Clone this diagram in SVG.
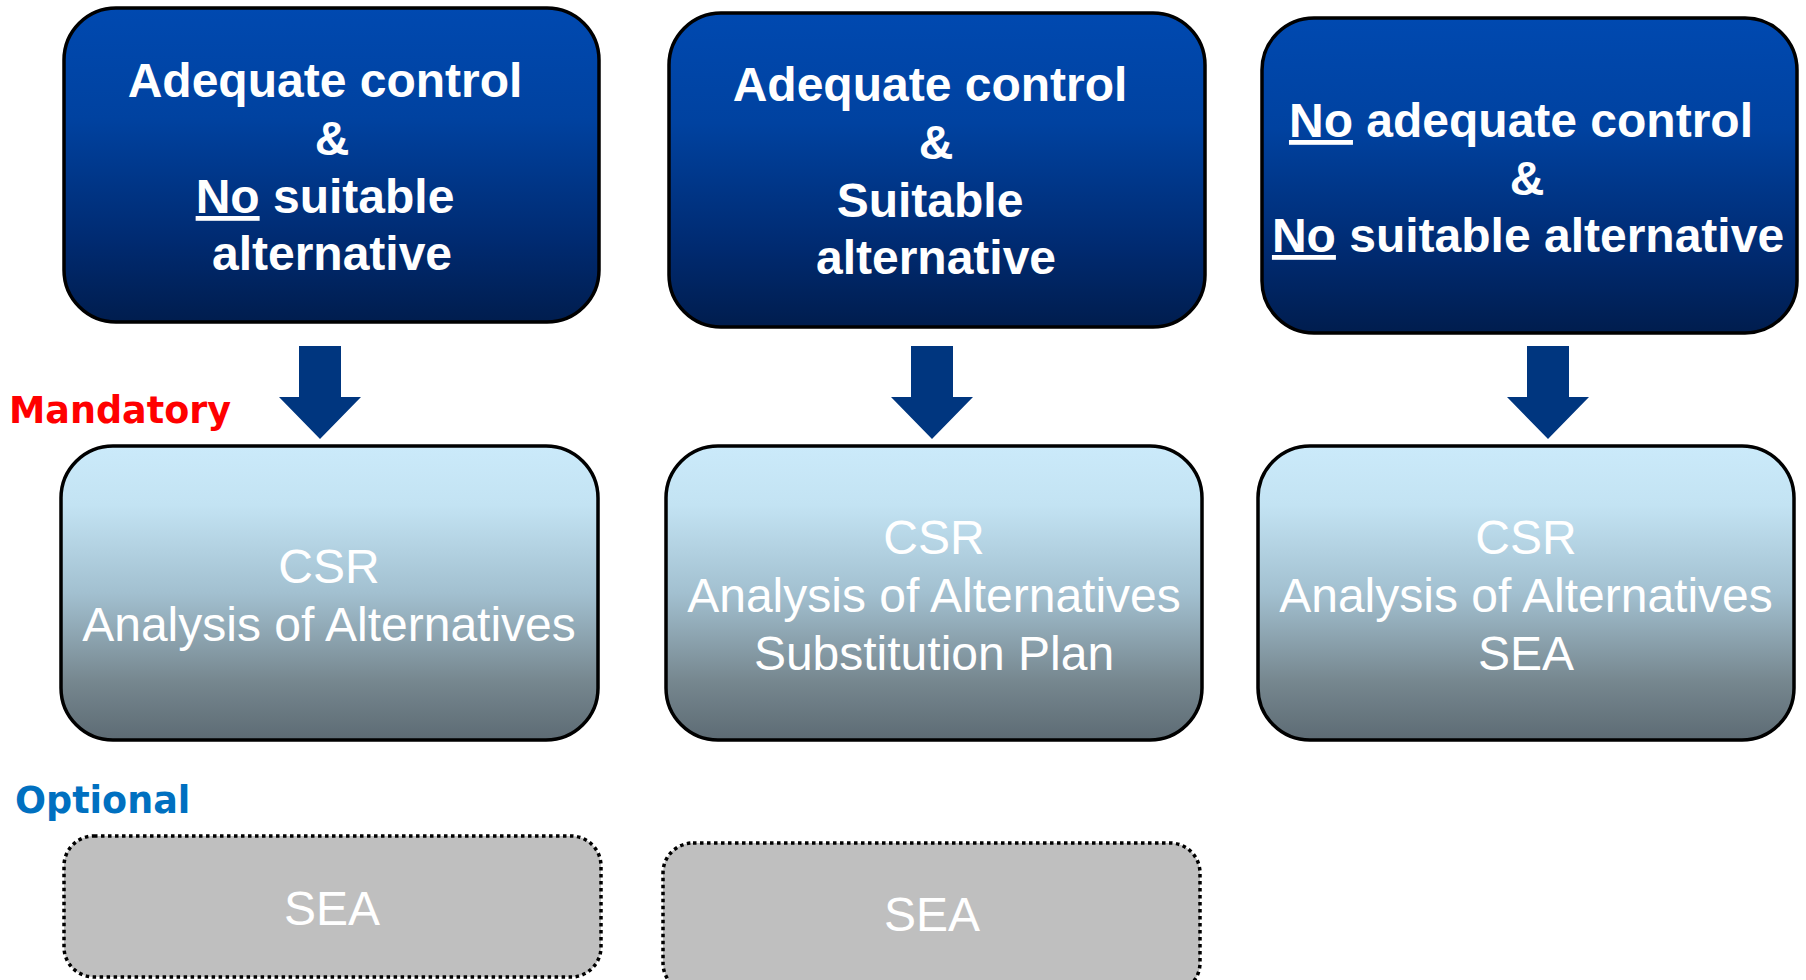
<svg xmlns="http://www.w3.org/2000/svg" width="1806" height="980" viewBox="0 0 1806 980">
<defs>
<linearGradient id="gTop" x1="0" y1="0" x2="0" y2="1">
<stop offset="0" stop-color="#0049B0"/>
<stop offset="0.35" stop-color="#0042A0"/>
<stop offset="0.75" stop-color="#002A70"/>
<stop offset="1" stop-color="#001D4E"/>
</linearGradient>
<linearGradient id="gMid" x1="0" y1="0" x2="0" y2="1">
<stop offset="0" stop-color="#CBEAFA"/>
<stop offset="0.2" stop-color="#C3E3F3"/>
<stop offset="0.5" stop-color="#A2C0D0"/>
<stop offset="0.8" stop-color="#76878F"/>
<stop offset="1" stop-color="#5D6B74"/>
</linearGradient>
</defs>
<style>
.top{fill:url(#gTop);stroke:#000;stroke-width:3.5}
.mid{fill:url(#gMid);stroke:#000;stroke-width:3.5}
.opt{fill:#BFBFBF;stroke:#000;stroke-width:3.5;stroke-dasharray:3.5 3.5}
.tt{font-family:"Liberation Sans",Arial,sans-serif;font-weight:bold;font-size:48px;fill:#fff;text-anchor:middle}
.mt{font-family:"Liberation Sans",Arial,sans-serif;font-size:48px;fill:#fff;text-anchor:middle}
.lbl{font-family:"DejaVu Sans",Verdana,sans-serif;font-weight:bold;font-size:36.5px}
.arr{fill:#00367F}
</style>
<rect width="1806" height="980" fill="#fff"/>

<g id="connectors">
<polygon class="arr" points="299,346 341,346 341,397 361,397 320,439 279,397 299,397"/>
<polygon class="arr" points="911,346 953,346 953,397 973,397 932,439 891,397 911,397"/>
<polygon class="arr" points="1527,346 1569,346 1569,397 1589,397 1548,439 1507,397 1527,397"/>
</g>

<g id="node-top1">
<rect class="top" x="64" y="8" width="535" height="314" rx="52"/>
<text class="tt" x="325" y="97">Adequate control</text>
<text class="tt" x="332" y="155">&amp;</text>
<text class="tt" x="325" y="213"><tspan text-decoration="underline">No</tspan> suitable</text>
<text class="tt" x="332" y="270">alternative</text>
</g>

<g id="node-top2">
<rect class="top" x="669" y="13" width="536" height="314" rx="52"/>
<text class="tt" x="930" y="101">Adequate control</text>
<text class="tt" x="936" y="159">&amp;</text>
<text class="tt" x="930" y="217">Suitable</text>
<text class="tt" x="936" y="274">alternative</text>
</g>

<g id="node-top3">
<rect class="top" x="1262" y="18" width="535" height="315" rx="52"/>
<text class="tt" x="1521" y="137"><tspan text-decoration="underline">No</tspan> adequate control</text>
<text class="tt" x="1527" y="195">&amp;</text>
<text class="tt" x="1528" y="252"><tspan text-decoration="underline">No</tspan> suitable alternative</text>
</g>

<g id="label-mandatory">
<text class="lbl" x="9" y="423" fill="#FF0000">Mandatory</text>
</g>

<g id="node-mid1">
<rect class="mid" x="61" y="446" width="537" height="294" rx="52"/>
<text class="mt" x="329" y="583">CSR</text>
<text class="mt" x="329" y="641">Analysis of Alternatives</text>
</g>

<g id="node-mid2">
<rect class="mid" x="666" y="446" width="536" height="294" rx="52"/>
<text class="mt" x="934" y="554">CSR</text>
<text class="mt" x="934" y="612">Analysis of Alternatives</text>
<text class="mt" x="934" y="670">Substitution Plan</text>
</g>

<g id="node-mid3">
<rect class="mid" x="1258" y="446" width="536" height="294" rx="52"/>
<text class="mt" x="1526" y="554">CSR</text>
<text class="mt" x="1526" y="612">Analysis of Alternatives</text>
<text class="mt" x="1526" y="670">SEA</text>
</g>

<g id="label-optional">
<text class="lbl" x="15" y="813" fill="#0070C0">Optional</text>
</g>

<g id="node-opt1">
<rect class="opt" x="64" y="836" width="537" height="141" rx="30"/>
<text class="mt" x="332" y="925">SEA</text>
</g>

<g id="node-opt2">
<rect class="opt" x="663" y="843" width="537" height="150" rx="30"/>
<text class="mt" x="932" y="931">SEA</text>
</g>
</svg>
